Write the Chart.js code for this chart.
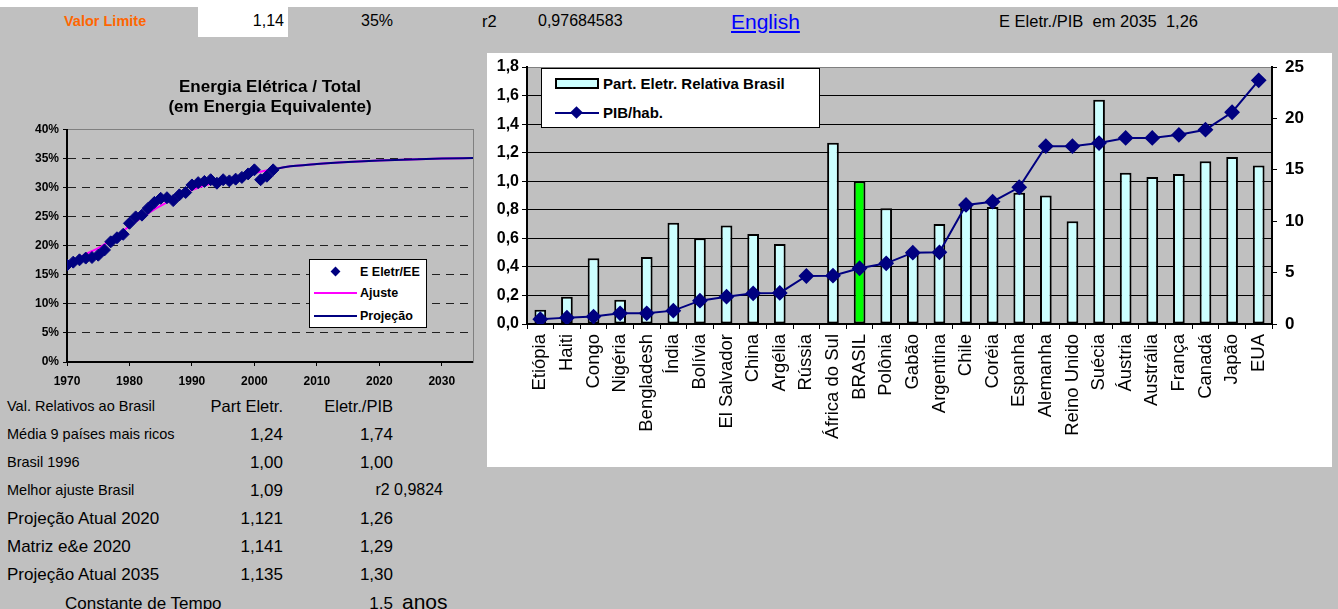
<!DOCTYPE html>
<html lang="pt-BR">
<head>
<meta charset="utf-8">
<title>Participação da Energia Elétrica</title>
<script src="https://cdn.jsdelivr.net/npm/chart.js@4.4.1/dist/chart.umd.min.js"></script>
<style>
  html, body { margin: 0; padding: 0; }
  body {
    width: 1338px; height: 609px; position: relative; overflow: hidden;
    background: #c0c0c0; color: #000;
    font-family: Arial, "Liberation Sans", sans-serif;
  }
  .abs { position: absolute; white-space: pre; line-height: 1; }
  .box { position: absolute; }
  canvas { position: absolute; }
  .leg { position: absolute; background: #fff; border: 1px solid #000; box-sizing: border-box; }
  .leg .item { position: absolute; white-space: nowrap; line-height: 1; font-weight: bold; }
  .diamond { position: absolute; background: #000080; transform: rotate(45deg); }
  .lineSw { position: absolute; height: 2px; }
</style>
</head>
<body>

<!-- faixa superior -->
<div class="box" style="left:0;top:0;width:1338px;height:7px;background:#fff"></div>
<div class="box" style="left:198px;top:7px;width:90px;height:30px;background:#fff"></div>
<div class="abs" style="left:64px;top:14px;font-size:14.5px;font-weight:bold;color:#ff6600">Valor Limite</div>
<div class="abs" style="right:1054px;top:13px;font-size:16px">1,14</div>
<div class="abs" style="left:361px;top:13px;font-size:16px">35%</div>
<div class="abs" style="left:482px;top:13px;font-size:16.5px">r2</div>
<div class="abs" style="left:538px;top:13px;font-size:16px">0,97684583</div>
<a class="abs" href="#" style="left:731px;top:10.5px;font-size:21px;color:#0000ff;text-decoration:underline">English</a>
<div class="abs" style="left:999px;top:13px;font-size:16.5px">E Eletr./PIB  em 2035  1,26</div>

<!-- gráfico da participação histórica -->
<canvas id="cHist" width="480" height="335" style="left:0;top:60px"></canvas>
<div class="leg" id="legHist" style="left:309px;top:259px;width:118px;height:69px"></div>

<!-- painel de comparação internacional -->
<div class="box" style="left:487px;top:53px;width:845px;height:414px;background:#fff"></div>
<canvas id="cPaises" width="845" height="414" style="left:487px;top:53px"></canvas>
<div class="leg" id="legPaises" style="left:541px;top:68px;width:279px;height:60px"></div>

<!-- tabela de valores relativos -->
<div id="tabela"></div>

<script>
// Participação da eletricidade na energia total (Brasil), em %
const anosHist = [1970, 1971, 1972, 1973, 1974, 1975, 1976, 1977, 1978, 1979,
                  1980, 1981, 1982, 1983, 1984, 1985, 1986, 1987, 1988, 1989,
                  1990, 1991, 1992, 1993, 1994, 1995, 1996, 1997, 1998, 1999,
                  2000, 2001, 2002, 2003];
const partHist = [16.7, 17.2, 17.6, 17.9, 18.0, 18.4, 19.3, 20.7, 21.4, 22.0,
                  23.9, 25.0, 25.3, 26.5, 27.5, 28.2, 28.3, 27.8, 28.8, 29.2,
                  30.5, 30.9, 31.1, 31.4, 30.8, 31.4, 31.2, 31.5, 31.8, 32.4,
                  33.1, 31.4, 32.0, 33.1];

// Curva ajustada e projeção, em %
const anosAjuste = [1972, 1973, 1975, 1977, 1979, 1980, 1982, 1984, 1986, 1988,
                    1990, 1992, 1994, 1996, 1998, 2000, 2002, 2004, 2005, 2010,
                    2015, 2020, 2025, 2030, 2035];
const valAjuste  = [18.0, 18.6, 19.6, 21.0, 22.6, 23.4, 24.9, 26.3, 27.5, 28.6,
                    29.6, 30.4, 31.0, 31.6, 32.1, 32.6, 33.0, 33.4, 33.6, 34.1,
                    34.45, 34.7, 34.9, 35.05, 35.15];
const anosProj = [2003, 2004, 2005, 2010, 2015, 2020, 2025, 2030, 2035];
const valProj  = [33.2, 33.4, 33.6, 34.1, 34.45, 34.7, 34.9, 35.05, 35.15];

// Comparação internacional
const paises = ['Etiópia', 'Haiti', 'Congo', 'Nigéria', 'Bengladesh', 'Índia', 'Bolívia',
                'El Salvador', 'China', 'Argélia', 'Rússia', 'África do Sul', 'BRASIL',
                'Polônia', 'Gabão', 'Argentina', 'Chile', 'Coréia', 'Espanha', 'Alemanha',
                'Reino Unido', 'Suécia', 'Áustria', 'Austrália', 'França', 'Canadá',
                'Japão', 'EUA'];
const partRelativa = [0.10, 0.19, 0.46, 0.17, 0.47, 0.71, 0.60, 0.69, 0.63, 0.56,
                      null, 1.27, 1.00, 0.81, 0.50, 0.70, 0.85, 0.82, 0.92, 0.90,
                      0.72, 1.57, 1.06, 1.03, 1.05, 1.14, 1.17, 1.11];
const pibHab = [0.46, 0.62, 0.72, 1.04, 1.04, 1.30, 2.27, 2.66, 2.98, 3.02,
                4.67, 4.70, 5.42, 5.90, 6.94, 6.97, 11.58, 11.90, 13.3, 17.3,
                17.3, 17.6, 18.1, 18.1, 18.4, 18.9, 20.6, 23.7];

// Tabela de valores relativos ao Brasil
const tabLinhas = ['Val. Relativos ao Brasil', 'Média 9 países mais ricos', 'Brasil 1996',
                   'Melhor ajuste Brasil', 'Projeção Atual 2020', 'Matriz e&e 2020',
                   'Projeção Atual 2035'];
const tabPart   = ['Part Eletr.', '1,24', '1,00', '1,09', '1,121', '1,141', '1,135'];
const tabPib    = ['Eletr./PIB', '1,74', '1,00', '', '1,26', '1,29', '1,30'];

const FONTE = 'Arial, "Liberation Sans", sans-serif';
const AZUL = '#000080';

// fundo cinza da área de plotagem
const fundoArea = {
  id: 'fundoArea',
  beforeDraw(chart, args, opts) {
    if (!opts.color) return;
    const { ctx, chartArea: a } = chart;
    ctx.save();
    ctx.fillStyle = opts.color;
    ctx.fillRect(a.left, a.top, a.right - a.left, a.bottom - a.top);
    ctx.restore();
  }
};

// fixa a espessura de cada eixo e anula o recuo automático dos rótulos
const fixa = (prop, val) => s => {
  s[prop] = val;
  s.paddingTop = 0; s.paddingBottom = 0; s.paddingLeft = 0; s.paddingRight = 0;
};

const pts = (xs, ys) => xs.map((x, i) => ({ x: x, y: ys[i] / 100 }));

const histChart = new Chart(document.getElementById('cHist'), {
  type: 'scatter',
  data: {
    datasets: [
      { label: 'E Eletr/EE', data: pts(anosHist, partHist), showLine: false,
        pointStyle: 'rectRot', pointRadius: 6, backgroundColor: AZUL, borderColor: AZUL,
        borderWidth: 1, order: 0 },
      { label: 'Ajuste', data: pts(anosAjuste, valAjuste), showLine: true,
        borderColor: '#ff00ff', borderWidth: 2, pointRadius: 0,
        cubicInterpolationMode: 'monotone', order: 2 },
      { label: 'Projeção', data: pts(anosProj, valProj), showLine: true,
        borderColor: AZUL, borderWidth: 2, pointRadius: 0,
        cubicInterpolationMode: 'monotone', order: 1 }
    ]
  },
  options: {
    responsive: false, animation: false, events: [],
    layout: { padding: 0 },
    plugins: {
      legend: { display: false }, tooltip: { enabled: false },
      fundoArea: {},
      title: {
        display: true, fullSize: false,
        text: ['Energia Elétrica / Total', '(em Energia Equivalente)'],
        color: '#000', font: { family: FONTE, size: 17, weight: 'bold', lineHeight: 1.2 },
        padding: { top: 17, bottom: 12 }
      }
    },
    scales: {
      x: {
        type: 'linear', min: 1970, max: 2035,
        afterFit: fixa('height', 33),
        ticks: { stepSize: 10, includeBounds: false, maxRotation: 0, color: '#000', padding: 8,
                 font: { family: FONTE, size: 12, weight: 'bold' }, callback: v => String(v) },
        grid: { drawOnChartArea: false, tickLength: 4, tickColor: '#000' },
        border: { color: '#000', width: 2 }
      },
      y: {
        min: 0, max: 0.4,
        afterFit: fixa('width', 67),
        ticks: { stepSize: 0.05, color: '#000', padding: 4,
                 font: { family: FONTE, size: 12, weight: 'bold' },
                 callback: v => Math.round(v * 100) + '%' },
        grid: {
          color: c => (!c.tick || c.tick.value < 0.001) ? 'rgba(0,0,0,0)' :
                      (c.tick.value > 0.399 ? '#808080' : '#202020'),
          lineWidth: 1, tickLength: 4, tickColor: '#000'
        },
        border: { color: '#000', width: 2,
                  dash: c => (c.tick && c.tick.value < 0.399) ? [8, 6] : [] }
      },
      yBorda: {
        position: 'right', min: 0, max: 0.4,
        afterFit: fixa('width', 7),
        ticks: { display: false }, grid: { display: false },
        border: { color: '#808080', width: 1 }
      }
    }
  },
  plugins: [fundoArea]
});

const paisesChart = new Chart(document.getElementById('cPaises'), {
  type: 'bar',
  data: {
    labels: paises,
    datasets: [
      { type: 'line', label: 'PIB/hab.', data: pibHab, yAxisID: 'y2',
        borderColor: AZUL, backgroundColor: AZUL, borderWidth: 2, tension: 0,
        pointStyle: 'rectRot', pointRadius: 6.5, pointBackgroundColor: AZUL,
        pointBorderColor: AZUL, order: 0 },
      { type: 'bar', label: 'Part. Eletr. Relativa Brasil', data: partRelativa, yAxisID: 'y',
        backgroundColor: paises.map(p => p === 'BRASIL' ? '#00ff00' : '#ccffff'),
        borderColor: '#000', borderWidth: 2, borderSkipped: false,
        barPercentage: 0.44, categoryPercentage: 1, order: 1 }
    ]
  },
  options: {
    responsive: false, animation: false, events: [],
    layout: { padding: { top: 14, left: 0, right: 0, bottom: 0 } },
    plugins: {
      legend: { display: false }, tooltip: { enabled: false },
      fundoArea: { color: '#c0c0c0' }
    },
    scales: {
      x: {
        afterFit: fixa('height', 143),
        ticks: { autoSkip: false, minRotation: 90, maxRotation: 90, padding: 5, color: '#000',
                 font: { family: FONTE, size: 18.5 } },
        grid: { drawOnChartArea: false, offset: true, tickLength: 5, tickColor: '#000' },
        border: { color: '#000', width: 2 }
      },
      y: {
        position: 'left', min: 0, max: 1.8,
        afterFit: fixa('width', 40),
        ticks: { stepSize: 0.2, color: '#000', padding: 3,
                 font: { family: FONTE, size: 16, weight: 'bold' },
                 callback: v => v.toFixed(1).replace('.', ',') },
        grid: {
          color: c => (!c.tick || c.tick.value < 0.001) ? 'rgba(0,0,0,0)' :
                      (c.tick.value > 1.799 ? '#808080' : '#000'),
          lineWidth: 1, tickLength: 5, tickColor: '#000'
        },
        border: { color: '#000', width: 2 }
      },
      y2: {
        position: 'right', min: 0, max: 25,
        afterFit: fixa('width', 60),
        ticks: { stepSize: 5, color: '#000', padding: 8,
                 font: { family: FONTE, size: 17, weight: 'bold' } },
        grid: { drawOnChartArea: false, tickLength: 5, tickColor: '#000' },
        border: { color: '#000', width: 2 }
      }
    }
  },
  plugins: [fundoArea]
});

// legendas em HTML, montadas a partir dos próprios datasets
(function () {
  const dsH = histChart.data.datasets;
  const lh = document.getElementById('legHist');
  lh.innerHTML =
    '<div class="diamond" style="left:22px;top:8px;width:7px;height:7px"></div>' +
    '<div class="item" style="left:50px;top:6px;font-size:12.5px">' + dsH[0].label + '</div>' +
    '<div class="lineSw" style="left:4px;top:32px;width:43px;background:' + dsH[1].borderColor + '"></div>' +
    '<div class="item" style="left:50px;top:27px;font-size:12.5px">' + dsH[1].label + '</div>' +
    '<div class="lineSw" style="left:4px;top:55px;width:43px;background:' + dsH[2].borderColor + '"></div>' +
    '<div class="item" style="left:50px;top:50px;font-size:12.5px">' + dsH[2].label + '</div>';

  const dsP = paisesChart.data.datasets;
  const lp = document.getElementById('legPaises');
  lp.innerHTML =
    '<div class="box" style="left:13px;top:9px;width:44px;height:11px;background:#ccffff;border:2px solid #000;box-sizing:border-box"></div>' +
    '<div class="item" style="left:61px;top:7px;font-size:15px">' + dsP[1].label + '</div>' +
    '<div class="lineSw" style="left:13px;top:43px;width:44px;background:' + dsP[0].borderColor + '"></div>' +
    '<div class="diamond" style="left:30px;top:39px;width:9px;height:9px"></div>' +
    '<div class="item" style="left:61px;top:36px;font-size:15px">' + dsP[0].label + '</div>';
})();

// tabela
(function () {
  const t = document.getElementById('tabela');
  const ys = [406, 434, 462, 490, 518, 546, 574];
  let html = '';
  tabLinhas.forEach((lab, i) => {
    const fsL = i < 4 ? 14.5 : 17;
    const fsN = i === 0 ? 16.5 : 17;
    const y = ys[i];
    html += '<div class="abs" style="left:7px;top:' + (y - fsL / 2) + 'px;font-size:' + fsL + 'px">' + lab.replace('&', '&amp;') + '</div>';
    html += '<div class="abs" style="right:' + (1338 - 283) + 'px;top:' + (y - fsN / 2) + 'px;font-size:' + fsN + 'px">' + tabPart[i] + '</div>';
    if (tabPib[i]) {
      html += '<div class="abs" style="right:' + (1338 - 393) + 'px;top:' + (y - fsN / 2) + 'px;font-size:' + fsN + 'px">' + tabPib[i] + '</div>';
    }
  });
  html += '<div class="abs" style="right:' + (1338 - 443) + 'px;top:' + (490 - 8) + 'px;font-size:16px">r2 0,9824</div>';
  html += '<div class="abs" style="left:65px;top:' + (603 - 8.5) + 'px;font-size:17px">Constante de Tempo</div>';
  html += '<div class="abs" style="right:' + (1338 - 393) + 'px;top:' + (603 - 8.5) + 'px;font-size:17px">1,5</div>';
  html += '<div class="abs" style="left:402px;top:' + (601 - 10.5) + 'px;font-size:21px">anos</div>';
  t.innerHTML = html;
})();
</script>
</body>
</html>
